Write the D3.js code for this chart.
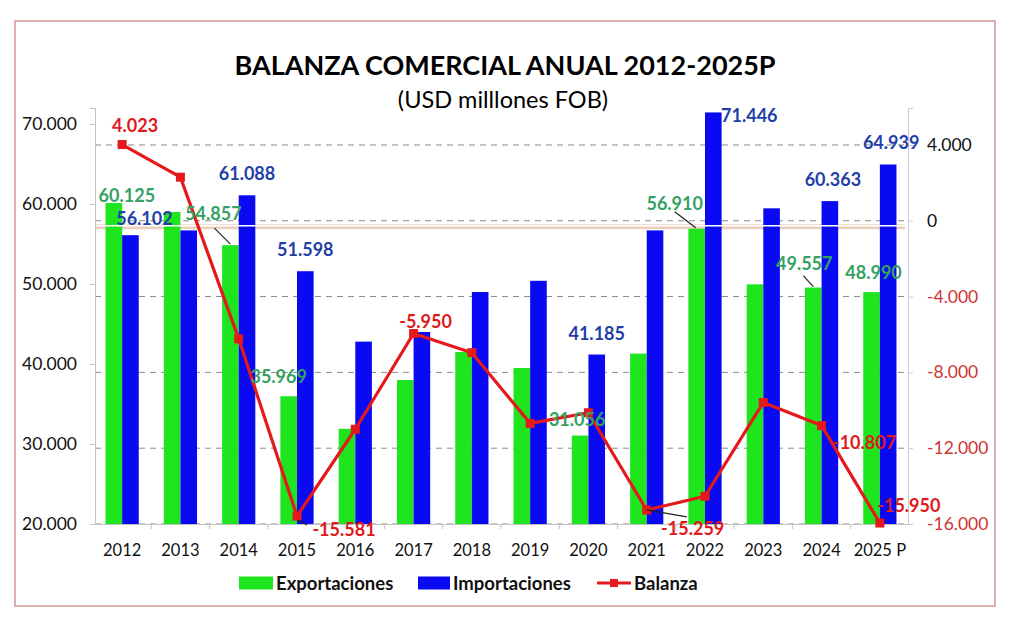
<!DOCTYPE html>
<html>
<head>
<meta charset="utf-8">
<script src="https://cdn.jsdelivr.net/npm/d3@7"></script>
<style>
  body { margin: 0; background: #fff; }
  svg { display: block; font-family: Lato, "Open Sans", sans-serif; }
</style>
</head>
<body>
<svg width="1024" height="627"></svg>
<script>
const years = ["2012", "2013", "2014", "2015", "2016", "2017", "2018", "2019", "2020", "2021", "2022", "2023", "2024", "2025 P"];
const exportaciones = [60125, 59000, 54857, 35969, 31900, 38000, 41500, 39500, 31056, 41300, 56910, 49960, 49557, 48990];
const importaciones = [56102, 56700, 61088, 51598, 42800, 44000, 49000, 50400, 41185, 56700, 71446, 59460, 60363, 64939];
const balanza = [4023, 2300, -6231, -15581, -11000, -5950, -6960, -10690, -10129, -15259, -14536, -9590, -10807, -15950];
const leftTicks = [20000, 30000, 40000, 50000, 60000, 70000];
const rightTicks = [4000, 0, -4000, -8000, -12000, -16000];

// label placement relative to the mark (px)
const labelPos = [
  { s: "exp", i: 0, dx: 13, dy: -8 },
  { s: "exp", i: 2, dx: -17, dy: -32, lead: [-16, -17, 0, -1] },
  { s: "exp", i: 3, dx: -10, dy: -20 },
  { s: "exp", i: 8, dx: -3, dy: -17 },
  { s: "exp", i: 10, dx: -22, dy: -26, lead: [-22, -17, -1, -1] },
  { s: "exp", i: 12, dx: -9, dy: -25, lead: [-10, -12, 0, -1] },
  { s: "exp", i: 13, dx: 2, dy: -20 },
  { s: "imp", i: 0, dx: 14, dy: -17 },
  { s: "imp", i: 2, dx: 0, dy: -22 },
  { s: "imp", i: 3, dx: 0, dy: -22 },
  { s: "imp", i: 8, dx: 0, dy: -22 },
  { s: "imp", i: 10, dx: 36, dy: 3 },
  { s: "imp", i: 12, dx: 3, dy: -22 },
  { s: "imp", i: 13, dx: 3, dy: -22 },
  { s: "bal", i: 0, dx: 13, dy: -20 },
  { s: "bal", i: 3, dx: 47, dy: 13, lead: [1, 4, 10, 9] },
  { s: "bal", i: 5, dx: 12, dy: -13 },
  { s: "bal", i: 9, dx: 46, dy: 18, lead: [0, 0, 40, 7] },
  { s: "bal", i: 12, dx: 43, dy: 16 },
  { s: "bal", i: 13, dx: 29, dy: -18 }
];

const fmt = (v) => d3.format(",")(v).replace(/,/g, ".").replace("\u2212", "-");

const svg = d3.select("svg");
const plot = { left: 93, right: 909, top: 108, bottom: 524 };

const x0 = d3.scaleBand().domain(years).range([plot.left, plot.right]).paddingInner(0.43).paddingOuter(0.215);
const x1 = d3.scaleBand().domain(["exp", "imp"]).range([0, x0.bandwidth()]);
const yL = d3.scaleLinear().domain([20000, 72000]).range([plot.bottom, plot.top]);
const yR = d3.scaleLinear().domain([-16000, 5950]).range([plot.bottom, plot.top]);
const cx = (i) => x0(years[i]) + x0.bandwidth() / 2;

const colors = { exp: "#1ee51e", imp: "#0a0af2", bal: "#e5191c" };
const labelColors = { exp: "#35a164", imp: "#1f3fa8", bal: "#e0191c" };

// border
svg.append("rect")
  .attr("x", 15).attr("y", 21).attr("width", 980).attr("height", 585)
  .attr("fill", "none").attr("stroke", "#d49494").attr("stroke-width", 1.5);

// title
svg.append("text")
  .attr("x", 505).attr("y", 75)
  .attr("text-anchor", "middle").attr("font-weight", "bold").attr("font-size", 27)
  .text("BALANZA COMERCIAL ANUAL 2012-2025P");
svg.append("text")
  .attr("x", 503).attr("y", 108)
  .attr("text-anchor", "middle").attr("font-size", 23.5)
  .text("(USD milllones FOB)");

// grid lines on right axis
svg.append("g")
  .selectAll("line")
  .data(rightTicks)
  .join("line")
  .attr("x1", plot.left + 2).attr("x2", plot.right - 2)
  .attr("y1", (d) => yR(d)).attr("y2", (d) => yR(d))
  .attr("stroke", "#8a8a8a").attr("stroke-dasharray", "6,5");

// zero band
svg.append("line")
  .attr("x1", plot.left + 2).attr("x2", plot.right - 4)
  .attr("y1", yR(0) + 6).attr("y2", yR(0) + 6)
  .attr("stroke", "#ead0c0").attr("stroke-width", 5);

// bars
const groups = svg.append("g")
  .selectAll("g")
  .data(years)
  .join("g")
  .attr("transform", (d) => `translate(${x0(d)},0)`);

groups.selectAll("rect")
  .data((d, i) => [
    { key: "exp", v: exportaciones[i] },
    { key: "imp", v: importaciones[i] }
  ])
  .join("rect")
  .attr("x", (d) => x1(d.key))
  .attr("width", x1.bandwidth())
  .attr("y", (d) => yL(d.v))
  .attr("height", (d) => yL(20000) - yL(d.v))
  .attr("fill", (d) => colors[d.key]);

svg.append("line")
  .attr("x1", plot.left + 2).attr("x2", plot.right - 4)
  .attr("y1", yR(0) + 5).attr("y2", yR(0) + 5)
  .attr("stroke", "#fff").attr("stroke-width", 1.5);

// axes
const leftAxis = svg.append("g")
  .attr("transform", `translate(${plot.left + 2},0)`)
  .call(d3.axisLeft(yL).tickValues(leftTicks).tickFormat(fmt).tickSize(5).tickPadding(13));
leftAxis.select(".domain").attr("stroke", "#c4c4c4");
leftAxis.selectAll(".tick line").attr("stroke", "#c4c4c4");
leftAxis.selectAll("text").attr("font-size", 17.5).attr("fill", "#111").attr("font-family", "Lato");

const rightAxis = svg.append("g")
  .attr("transform", `translate(${plot.right - 1},0)`)
  .call(d3.axisRight(yR).tickValues(rightTicks).tickFormat(fmt).tickSize(5).tickPadding(14));
rightAxis.select(".domain").attr("stroke", "#c9c9dc");
rightAxis.selectAll(".tick line").attr("stroke", "#c9c9dc");
rightAxis.selectAll("text")
  .attr("font-size", 17.5).attr("font-family", "Lato")
  .attr("fill", (d) => (d < 0 ? "#cf3535" : "#111"));

const bottomAxis = svg.append("g")
  .attr("transform", `translate(0,${plot.bottom})`)
  .call(d3.axisBottom(x0).tickSize(0).tickPadding(20));
bottomAxis.select(".domain").attr("stroke", "#c4c4c4");
bottomAxis.selectAll("text").attr("font-size", 16.5).attr("fill", "#111").attr("font-family", "Lato");
bottomAxis.selectAll(".sep")
  .data(years.slice(1))
  .join("line")
  .attr("class", "sep")
  .attr("x1", (d) => x0(d) - (x0.step() - x0.bandwidth()) / 2)
  .attr("x2", (d) => x0(d) - (x0.step() - x0.bandwidth()) / 2)
  .attr("y1", 0).attr("y2", 5)
  .attr("stroke", "#c4c4c4");

// balance line
const line = d3.line().x((d, i) => cx(i)).y((d) => yR(d));
svg.append("path")
  .datum(balanza)
  .attr("d", line)
  .attr("fill", "none")
  .attr("stroke", colors.bal)
  .attr("stroke-width", 3.2)
  .attr("stroke-linejoin", "round");
svg.append("g")
  .selectAll("rect")
  .data(balanza)
  .join("rect")
  .attr("x", (d, i) => cx(i) - 4.5)
  .attr("y", (d) => yR(d) - 4.5)
  .attr("width", 9).attr("height", 9)
  .attr("fill", colors.bal);

// data labels
function anchor(l) {
  if (l.s === "exp") return [x0(years[l.i]) + x1("exp") + x1.bandwidth() / 2, yL(exportaciones[l.i])];
  if (l.s === "imp") return [x0(years[l.i]) + x1("imp") + x1.bandwidth() / 2, yL(importaciones[l.i])];
  return [cx(l.i), yR(balanza[l.i])];
}
const valueOf = (l) => (l.s === "exp" ? exportaciones : l.s === "imp" ? importaciones : balanza)[l.i];

const labelsG = svg.append("g");
labelPos.filter((l) => l.lead).forEach((l) => {
  const [ax, ay] = anchor(l);
  labelsG.append("line")
    .attr("x1", ax + l.lead[0]).attr("y1", ay + l.lead[1])
    .attr("x2", ax + l.lead[2]).attr("y2", ay + l.lead[3])
    .attr("stroke", "#222").attr("stroke-width", 1.2);
});
labelPos.forEach((l) => {
  const [ax, ay] = anchor(l);
  labelsG.append("text")
    .attr("x", ax + l.dx).attr("y", ay + l.dy)
    .attr("text-anchor", "middle").attr("dominant-baseline", "central")
    .attr("font-weight", "bold").attr("font-size", 18)
    .attr("fill", labelColors[l.s])
    .text(fmt(valueOf(l)));
});

// legend
const legend = [
  { key: "exp", label: "Exportaciones", x: 239, w: 34 },
  { key: "imp", label: "Importaciones", x: 418, w: 32 },
  { key: "bal", label: "Balanza", x: 597, w: 34 }
];
const lg = svg.append("g").attr("transform", "translate(0,583)");
legend.forEach((d) => {
  if (d.key === "bal") {
    lg.append("line").attr("x1", d.x).attr("x2", d.x + d.w).attr("y1", 0).attr("y2", 0)
      .attr("stroke", colors.bal).attr("stroke-width", 3);
    lg.append("rect").attr("x", d.x + d.w / 2 - 4).attr("y", -4).attr("width", 8).attr("height", 8)
      .attr("fill", colors.bal);
  } else {
    lg.append("rect").attr("x", d.x).attr("y", -6.5).attr("width", d.w).attr("height", 13)
      .attr("fill", colors[d.key]);
  }
  lg.append("text")
    .attr("x", d.x + d.w + 3).attr("y", 0)
    .attr("dominant-baseline", "central")
    .attr("font-weight", "bold").attr("font-size", 18.5)
    .attr("fill", "#111")
    .text(d.label);
});
</script>
</body>
</html>
